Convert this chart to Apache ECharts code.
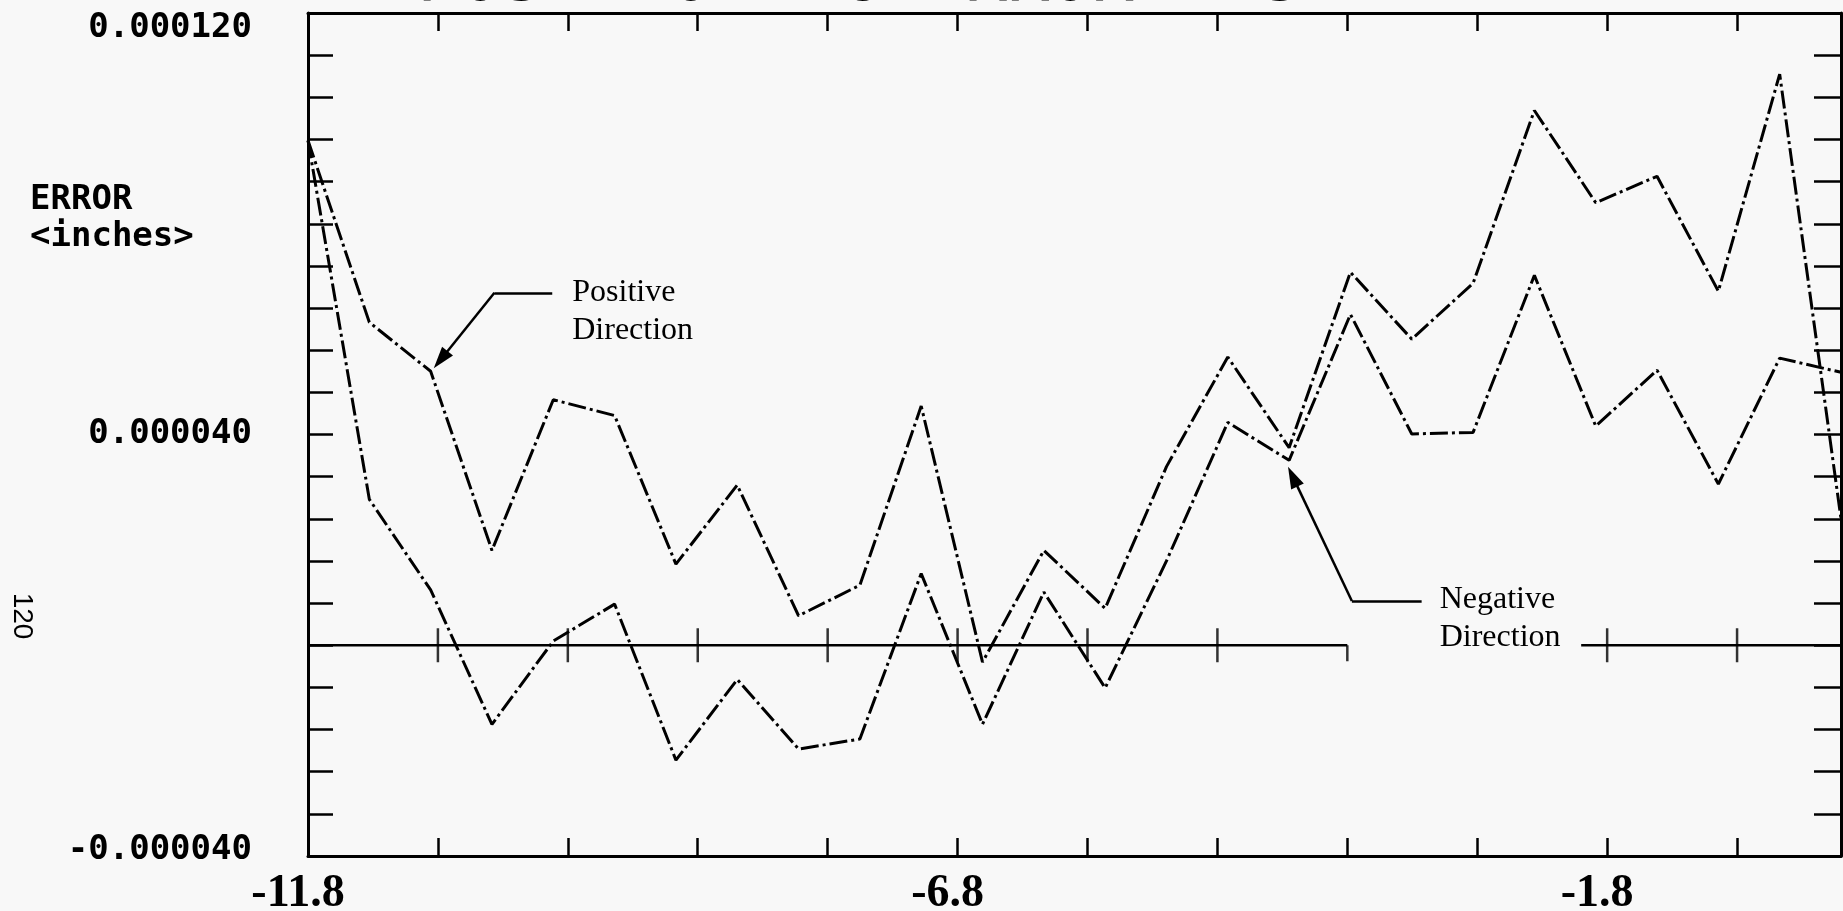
<!DOCTYPE html>
<html><head><meta charset="utf-8">
<script src="https://cdn.jsdelivr.net/npm/echarts@6/dist/echarts.min.js"></script>
<style>html,body{margin:0;padding:0;background:#f8f8f8}#c{width:1843px;height:911px}</style>
</head><body><div id="c"></div>
<script>
// Position along travel (x) for every measurement
const positionX = [-11.8, -11.328, -10.856, -10.384, -9.912, -9.44, -8.968, -8.496, -8.024, -7.552,
  -7.08, -6.608, -6.136, -5.664, -5.192, -4.72, -4.248, -3.776, -3.304, -2.832,
  -2.36, -1.888, -1.416, -0.944, -0.472, 0];
// Error in micro-inches (1e-6 in)
const positiveError = [95.8, 61.3, 52.0, 18.0, 46.6, 43.6, 15.4, 30.4, 5.6, 11.4,
  45.4, -3.2, 18.0, 7.0, 33.9, 54.7, 37.5, 70.8, 58.1, 68.7,
  101.5, 84.0, 89.0, 67.2, 108.4, 24.0];
const negativeError = [95.8, 27.7, 10.5, -15.0, 0.8, 7.8, -21.8, -6.5, -19.7, -17.8,
  13.6, -15.0, 10.1, -8.1, 16.0, 42.3, 35.1, 62.8, 40.1, 40.4,
  70.2, 41.6, 52.2, 30.6, 54.5, 51.8];
const xTickLabels = ['-11.8', '-6.8', '-1.8'];
const yTickLabels = ['0.000120', '0.000040', '-0.000040'];
const zeroLineTicksX = [-10.8, -9.8, -8.8, -7.8, -6.8, -5.8, -4.8, -1.8, -0.8];
const zeroLineEndTickX = [-3.8];

const chart = echarts.init(document.getElementById('c'), null, {renderer: 'canvas'});
const black = '#000';
const dashDot = [18, 4, 3, 4];

function xAxisDef(pos, showLabels) {
  return {
    type: 'value', position: pos, min: -11.8, max: 0, interval: 1,
    axisLine: {show: true, onZero: false, lineStyle: {color: black, width: 3}},
    axisTick: {show: true, inside: true, length: 18, lineStyle: {color: black, width: 2.5}},
    splitLine: {show: false},
    axisLabel: {
      show: showLabels, margin: 15, showMinLabel: true, showMaxLabel: true,
      fontFamily: 'Liberation Serif', fontWeight: 'bold', fontSize: 46, color: black,
      padding: [0, 20, 0, 0],
      formatter: function (v) { const s = v.toFixed(1); return xTickLabels.includes(s) ? s : ''; }
    }
  };
}
function yAxisDef(pos, showLabels, tickLen) {
  const font = {fontFamily: 'DejaVu Sans Mono', fontWeight: 'bold', fontSize: 34, color: black};
  return {
    type: 'value', position: pos, min: -40, max: 120, interval: 8,
    axisLine: {show: true, onZero: false, lineStyle: {color: black, width: 3}},
    axisTick: {show: true, inside: true, length: tickLen, lineStyle: {color: black, width: 2.5}},
    splitLine: {show: false},
    axisLabel: {
      show: showLabels, margin: 56, showMinLabel: true, showMaxLabel: true,
      formatter: function (v) {
        const s = (v / 1e6).toFixed(6);
        const idx = yTickLabels.indexOf(s);
        if (idx < 0) return '';
        return '{' + ['t', 'm', 'b'][idx] + '|' + s + '}';
      },
      rich: {
        t: {...font, padding: [30, 0, 0, 0]},
        m: {...font},
        b: {...font, padding: [0, 0, 12, 0]}
      }
    }
  };
}

const annoLine = {color: black, width: 2.5, type: 'solid'};
const annoLabel = {fontFamily: 'Liberation Serif', fontSize: 32, lineHeight: 38, color: black};

chart.setOption({
  backgroundColor: '#f8f8f8',
  animation: false,
  grid: {left: 308, top: 13, right: 2, bottom: 55, containLabel: false, outerBoundsMode: 'none'},
  xAxis: [xAxisDef('bottom', true), xAxisDef('top', false)],
  yAxis: [yAxisDef('left', true, 25), yAxisDef('right', false, 27)],
  graphic: [
    {type: 'text', left: 30, top: 182, style: {text: 'ERROR\n<inches>', fontFamily: 'DejaVu Sans Mono', fontWeight: 'bold', fontSize: 34, lineHeight: 37, fill: black}},
    {type: 'text', x: 22, y: 616, rotation: -Math.PI / 2, style: {text: '120', fontFamily: 'Liberation Sans', fontSize: 28, fill: black, align: 'center', verticalAlign: 'middle'}},
    {type: 'text', x: 417, y: -18, style: {text: 'POSITIONING ERROR TEST', fontFamily: 'DejaVu Sans Mono', fontSize: 70, fill: black, align: 'left', verticalAlign: 'middle'}}
  ],
  series: [
    {
      name: 'Zero', type: 'line', symbol: 'none', silent: true, connectNulls: false,
      lineStyle: {color: black, width: 2.5}, z: 2,
      data: [[-11.8, 0], [-3.8, 0], [-2.9, '-'], [-2.0, 0], [0, 0]]
    },
    {
      name: 'Zero ticks', type: 'scatter', symbol: 'rect', symbolSize: [2.5, 34], silent: true, z: 2,
      itemStyle: {color: black},
      data: zeroLineTicksX.map(x => [x, 0])
    },
    {
      name: 'Zero end tick', type: 'scatter', symbol: 'rect', symbolSize: [2.5, 16], symbolOffset: [0, 8], silent: true, z: 2,
      itemStyle: {color: black},
      data: zeroLineEndTickX.map(x => [x, 0])
    },
    {
      name: 'Positive Direction', type: 'line', symbol: 'none', z: 3,
      lineStyle: {color: black, width: 3, type: dashDot},
      data: positionX.map((x, i) => [x, positiveError[i]])
    },
    {
      name: 'Negative Direction', type: 'line', symbol: 'none', z: 3,
      lineStyle: {color: black, width: 3, type: dashDot},
      data: positionX.map((x, i) => [x, negativeError[i]])
    },
    {
      name: 'Annotations', type: 'line', data: [], silent: true, z: 4,
      markLine: {
        silent: true, animation: false, label: {show: false}, lineStyle: annoLine,
        data: [
          [{coord: [-10.365, 66.9], symbol: 'none'}, {coord: [-9.92, 66.9], symbol: 'none'}],
          [{coord: [-10.365, 66.9], symbol: 'none'}, {coord: [-10.779, 54.2], symbol: 'triangle', symbolSize: [14, 22]}],
          [{coord: [-3.765, 8.4], symbol: 'none'}, {coord: [-3.228, 8.4], symbol: 'none'}],
          [{coord: [-3.765, 8.4], symbol: 'none'}, {coord: [-4.22, 32.0], symbol: 'triangle', symbolSize: [14, 22]}]
        ]
      },
      markPoint: {
        silent: true, animation: false, symbol: 'circle', symbolSize: 0,
        label: {show: true, position: 'right', distance: 0, align: 'left', verticalAlign: 'middle', ...annoLabel},
        data: [
          {coord: [-9.766, 63.3], value: 0, label: {formatter: 'Positive\nDirection'}},
          {coord: [-3.089, 5.0], value: 0, label: {formatter: 'Negative\nDirection'}}
        ]
      }
    }
  ]
});
</script>
</body></html>
